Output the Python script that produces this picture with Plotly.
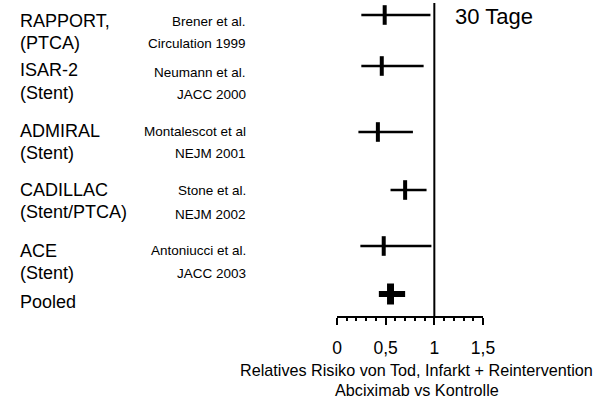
import plotly.graph_objects as go

# ---- data ----
studies = ["RAPPORT,", "ISAR-2", "ADMIRAL", "CADILLAC", "ACE", "Pooled"]
designs = ["(PTCA)", "(Stent)", "(Stent)", "(Stent/PTCA)", "(Stent)", ""]
authors = ["Brener et al.", "Neumann et al.", "Montalescot et al", "Stone et al.", "Antoniucci et al.", ""]
journals = ["Circulation 1999", "JACC 2000", "NEJM 2001", "NEJM 2002", "JACC 2003", ""]
rr_est = [0.49, 0.46, 0.42, 0.70, 0.48, 0.55]
rr_low = [0.25, 0.25, 0.22, 0.55, 0.24, 0.43]
rr_high = [0.96, 0.89, 0.78, 0.92, 0.97, 0.70]
tick_vals = [0, 0.5, 1, 1.5]
tick_text = ["0", "0,5", "1", "1,5"]
ref_value = 1
period_label = "30 Tage"
x_title = ["Relatives Risiko von Tod, Infarkt + Reintervention", "Abciximab vs Kontrolle"]

# ---- layout positions (pixels) ----
W, H = 603, 400
PL, PR = 337, 483          # plot area x pixels
PT, PB = 0, 316            # plot area y pixels
row_y = [15, 66, 132, 190, 246, 294]
name_y = [21, 70, 131, 190, 251, 302]
design_y = [43, 93, 153, 212, 273, None]
author_y = [21, 72, 131, 190, 250, None]
journal_y = [43, 94, 153, 214, 273, None]

FONT = "Liberation Sans, Arial, sans-serif"


def px_x(p):
    return (p - PL) / (PR - PL)


def px_y(p):
    return (PB - p) / (PB - PT)


fig = go.Figure()

n = len(studies)
ind = list(range(n - 1))
fig.add_trace(go.Scatter(
    x=[rr_est[i] for i in ind], y=[row_y[i] for i in ind],
    mode="markers",
    marker=dict(symbol="line-ns", size=14, line=dict(width=4, color="black"), color="black"),
    error_x=dict(type="data", symmetric=False,
                 array=[rr_high[i] - rr_est[i] for i in ind],
                 arrayminus=[rr_est[i] - rr_low[i] for i in ind],
                 width=0, thickness=2.5, color="black"),
    cliponaxis=False, showlegend=False, hoverinfo="skip"))

p = n - 1
fig.add_trace(go.Scatter(
    x=[rr_est[p]], y=[row_y[p]],
    mode="markers",
    marker=dict(symbol="line-ns", size=15, line=dict(width=7, color="black"), color="black"),
    error_x=dict(type="data", symmetric=False,
                 array=[rr_high[p] - rr_est[p]], arrayminus=[rr_est[p] - rr_low[p]],
                 width=0, thickness=6, color="black"),
    cliponaxis=False, showlegend=False, hoverinfo="skip"))

fig.add_shape(type="line", xref="x", yref="y", x0=ref_value, x1=ref_value, y0=3, y1=PB,
              line=dict(color="black", width=2))

ann = []
for i in range(n):
    ann.append(dict(text=studies[i], x=px_x(18), y=name_y[i], xref="paper", yref="y",
                    xanchor="left", yanchor="middle", showarrow=False,
                    font=dict(size=18, color="black", family=FONT)))
    if designs[i]:
        ann.append(dict(text=designs[i], x=px_x(18), y=design_y[i], xref="paper", yref="y",
                        xanchor="left", yanchor="middle", showarrow=False,
                        font=dict(size=18, color="black", family=FONT)))
    if authors[i]:
        ann.append(dict(text=authors[i], x=px_x(248), y=author_y[i], xref="paper", yref="y",
                        xanchor="right", yanchor="middle", showarrow=False,
                        font=dict(size=13.5, color="black", family=FONT)))
    if journals[i]:
        ann.append(dict(text=journals[i], x=px_x(248), y=journal_y[i], xref="paper", yref="y",
                        xanchor="right", yanchor="middle", showarrow=False,
                        font=dict(size=13.5, color="black", family=FONT)))

ann.append(dict(text=period_label, x=px_x(453), y=16, xref="paper", yref="y",
                xanchor="left", yanchor="middle", showarrow=False,
                font=dict(size=22, color="black", family=FONT)))
ann.append(dict(text=x_title[0], x=px_x(416.5), y=px_y(369.5), xref="paper", yref="paper",
                xanchor="center", yanchor="middle", showarrow=False, borderpad=0,
                font=dict(size=16.2, color="black", family=FONT)))
ann.append(dict(text=x_title[1], x=px_x(416.5), y=px_y(390), xref="paper", yref="paper",
                xanchor="center", yanchor="middle", showarrow=False, borderpad=0,
                font=dict(size=16.2, color="black", family=FONT)))

fig.update_layout(
    width=W, height=H,
    margin=dict(l=PL, r=W - PR, t=PT, b=H - PB, pad=0),
    paper_bgcolor="white", plot_bgcolor="white",
    annotations=ann,
    xaxis=dict(range=[0, 1.5], tickvals=tick_vals, ticktext=tick_text,
               showgrid=False, zeroline=False, showline=True, linecolor="black", linewidth=2,
               ticks="outside", ticklen=7, tickwidth=2, tickcolor="black",
               ticklabelstandoff=8,
               tickfont=dict(size=17.5, color="black", family=FONT),
               minor=dict(dtick=0.1, ticks="outside", ticklen=3, tickwidth=1.5, tickcolor="black"),
               fixedrange=True),
    yaxis=dict(range=[PB, PT], visible=False, showgrid=False, zeroline=False, fixedrange=True),
)

fig.write_html("out.html")
